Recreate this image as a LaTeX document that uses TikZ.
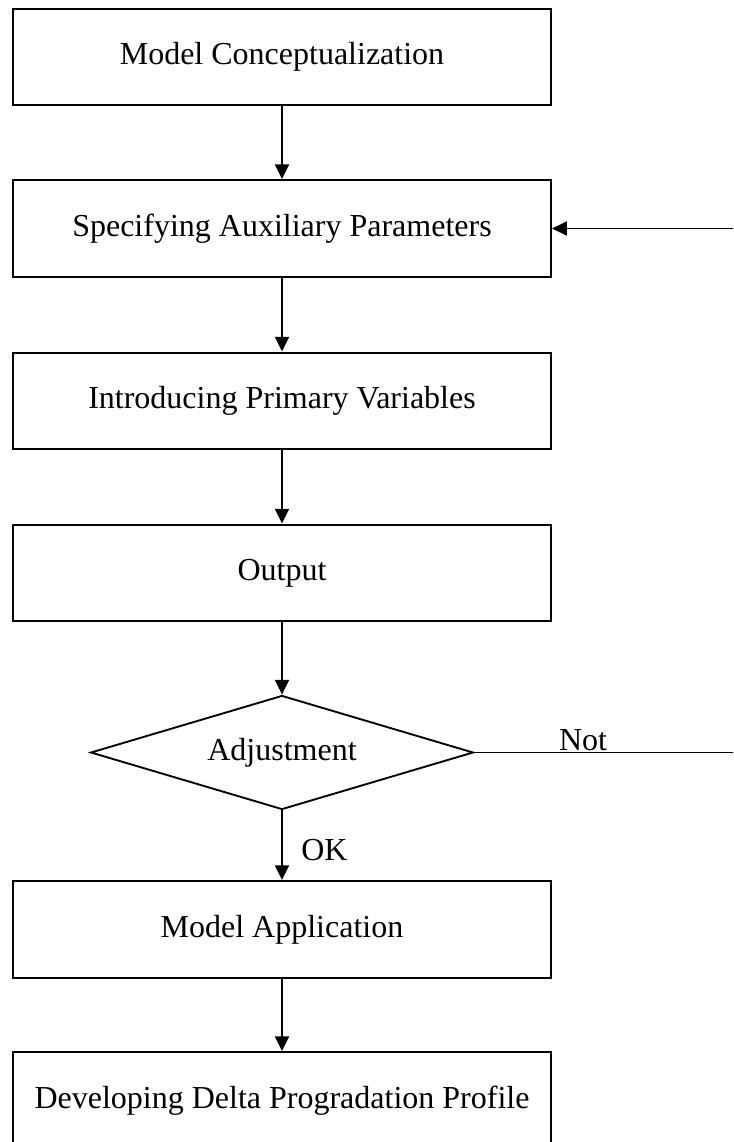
\documentclass[tikz,border=0pt]{standalone}
\usepackage{fontspec}
\setmainfont{Liberation Serif}
\usetikzlibrary{shapes.geometric,arrows.meta}
\tikzset{
  stepbox/.style={draw, line width=1.7pt, minimum width=403.5pt, minimum height=72.5pt,
    inner sep=0pt, font=\fontsize{24pt}{28pt}\selectfont},
  decision/.style={draw, diamond, aspect=3.36, line width=1.4pt, minimum width=287pt,
    minimum height=85.5pt, inner sep=0pt, font=\fontsize{24pt}{28pt}\selectfont},
  flow/.style={line width=1.4pt, -{Triangle[length=11pt,width=10.5pt]}},
  lbl/.style={inner sep=0pt, font=\fontsize{24pt}{28pt}\selectfont}
}
\begin{document}
\begin{tikzpicture}[x=0.75pt, y=-0.75pt]
  \useasboundingbox (0,0) rectangle (733,1142);
  \clip (0,0) rectangle (733,1142);
  % process steps
  \node[stepbox] (concept) at (282,57) {Model Conceptualization};
  \node[stepbox] (spec)    at (282,228.5) {Specifying Auxiliary Parameters};
  \node[stepbox] (prim)    at (282,401) {Introducing Primary Variables};
  \node[stepbox] (out)     at (282,573) {Output};
  \node[decision] (adj)    at (282,752.5) {Adjustment};
  \node[stepbox] (app)     at (282,929.5) {Model Application};
  \node[stepbox] (prof)    at (282,1100.5) {Developing Delta Progradation Profile};
  % feedback loop corners
  \coordinate (r1) at (745,752.5);
  \coordinate (r2) at (745,228.5);
  % connectors
  \draw[flow] (concept) -- (spec);
  \draw[flow] (spec) -- (prim);
  \draw[flow] (prim) -- (out);
  \draw[flow] (out) -- (adj);
  \draw[flow] (adj) -- (app);
  \draw[flow] (app) -- (prof);
  \draw[flow] (adj.east) -- (r1) -- (r2) -- (spec.east);
  % branch labels
  \node[lbl, anchor=base] (notlbl) at (583,750) {Not};
  \node[lbl, anchor=base west] (oklbl) at (301,860) {OK};
\end{tikzpicture}
\end{document}
